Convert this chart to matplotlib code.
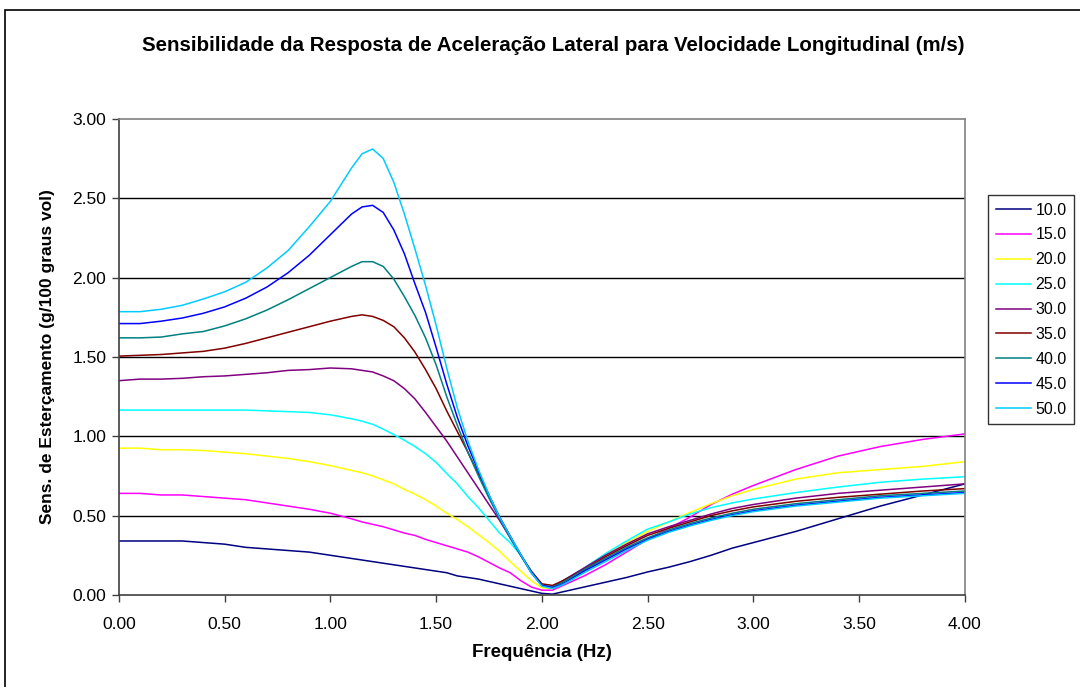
import numpy as np
import matplotlib
matplotlib.use('Agg')
import matplotlib.pyplot as plt
from matplotlib.patches import Rectangle

plt.rcParams['font.family'] = ['Liberation Sans', 'DejaVu Sans']

# frequencia (Hz)
freq = [0.0, 0.1, 0.2, 0.3, 0.4, 0.5, 0.6, 0.7, 0.8, 0.9, 1.0, 1.1, 1.15, 1.2, 1.25,
        1.3, 1.35, 1.4, 1.45, 1.5, 1.55, 1.6, 1.65, 1.7, 1.75, 1.8, 1.85, 1.9, 1.95,
        2.0, 2.05, 2.1, 2.2, 2.3, 2.4, 2.5, 2.6, 2.7, 2.8, 2.9, 3.0, 3.2, 3.4, 3.6,
        3.8, 4.0]

v10 = [0.34, 0.34, 0.34, 0.34, 0.33, 0.32, 0.30, 0.29, 0.28, 0.27, 0.25, 0.23, 0.22,
       0.21, 0.20, 0.19, 0.18, 0.17, 0.16, 0.15, 0.14, 0.12, 0.11, 0.10, 0.085, 0.07,
       0.055, 0.04, 0.025, 0.01, 0.005, 0.02, 0.05, 0.08, 0.11, 0.145, 0.175, 0.21,
       0.25, 0.295, 0.33, 0.40, 0.48, 0.56, 0.63, 0.70]
v15 = [0.64, 0.64, 0.63, 0.63, 0.62, 0.61, 0.60, 0.58, 0.56, 0.54, 0.515, 0.48, 0.46,
       0.445, 0.43, 0.41, 0.39, 0.375, 0.35, 0.33, 0.31, 0.29, 0.27, 0.24, 0.205, 0.17,
       0.14, 0.09, 0.05, 0.03, 0.03, 0.06, 0.12, 0.19, 0.27, 0.35, 0.42, 0.49, 0.57,
       0.635, 0.69, 0.79, 0.875, 0.935, 0.98, 1.015]
v20 = [0.925, 0.925, 0.915, 0.915, 0.91, 0.90, 0.89, 0.875, 0.86, 0.84, 0.815, 0.785,
       0.77, 0.75, 0.725, 0.70, 0.665, 0.635, 0.60, 0.56, 0.515, 0.475, 0.43, 0.38,
       0.33, 0.275, 0.21, 0.15, 0.09, 0.045, 0.04, 0.08, 0.16, 0.25, 0.33, 0.40, 0.46,
       0.52, 0.575, 0.625, 0.665, 0.73, 0.77, 0.79, 0.81, 0.84]
v25 = [1.165, 1.165, 1.165, 1.165, 1.165, 1.165, 1.165, 1.16, 1.155, 1.15, 1.135, 1.11,
       1.095, 1.075, 1.045, 1.01, 0.975, 0.935, 0.89, 0.835, 0.765, 0.70, 0.62, 0.55,
       0.47, 0.39, 0.33, 0.25, 0.15, 0.06, 0.05, 0.09, 0.17, 0.26, 0.34, 0.415, 0.46,
       0.51, 0.55, 0.58, 0.605, 0.645, 0.68, 0.71, 0.73, 0.745]
v30 = [1.35, 1.36, 1.36, 1.365, 1.375, 1.38, 1.39, 1.40, 1.415, 1.42, 1.43, 1.425,
       1.415, 1.405, 1.38, 1.35, 1.30, 1.235, 1.15, 1.06, 0.97, 0.87, 0.77, 0.67, 0.57,
       0.47, 0.36, 0.25, 0.14, 0.06, 0.05, 0.09, 0.17, 0.25, 0.32, 0.385, 0.43, 0.47,
       0.51, 0.545, 0.57, 0.61, 0.64, 0.66, 0.68, 0.70]
v35 = [1.505, 1.51, 1.515, 1.525, 1.535, 1.555, 1.585, 1.62, 1.655, 1.69, 1.725, 1.755,
       1.765, 1.755, 1.73, 1.69, 1.62, 1.53, 1.42, 1.30, 1.16, 1.03, 0.90, 0.76, 0.62,
       0.49, 0.37, 0.25, 0.15, 0.07, 0.06, 0.09, 0.16, 0.24, 0.31, 0.375, 0.42, 0.46,
       0.50, 0.53, 0.555, 0.59, 0.615, 0.635, 0.655, 0.67]
v40 = [1.62, 1.62, 1.625, 1.645, 1.66, 1.695, 1.74, 1.795, 1.86, 1.93, 2.00, 2.07,
       2.10, 2.10, 2.07, 1.99, 1.88, 1.76, 1.62, 1.45, 1.25, 1.07, 0.90, 0.75, 0.61,
       0.48, 0.36, 0.25, 0.14, 0.06, 0.05, 0.08, 0.16, 0.23, 0.30, 0.36, 0.41, 0.45,
       0.485, 0.515, 0.54, 0.575, 0.60, 0.625, 0.64, 0.655]
v45 = [1.71, 1.71, 1.725, 1.745, 1.775, 1.815, 1.87, 1.94, 2.03, 2.14, 2.27, 2.40,
       2.445, 2.455, 2.41, 2.30, 2.15, 1.96, 1.78, 1.56, 1.33, 1.12, 0.94, 0.78, 0.63,
       0.49, 0.37, 0.255, 0.145, 0.06, 0.045, 0.07, 0.15, 0.22, 0.29, 0.35, 0.40, 0.44,
       0.475, 0.505, 0.53, 0.565, 0.59, 0.615, 0.63, 0.645]
v50 = [1.785, 1.785, 1.80, 1.825, 1.865, 1.91, 1.97, 2.06, 2.17, 2.32, 2.48, 2.69,
       2.78, 2.81, 2.75, 2.60, 2.40, 2.18, 1.95, 1.70, 1.43, 1.18, 0.97, 0.79, 0.63,
       0.49, 0.37, 0.255, 0.14, 0.055, 0.04, 0.065, 0.14, 0.21, 0.28, 0.345, 0.395,
       0.435, 0.47, 0.50, 0.525, 0.56, 0.585, 0.61, 0.625, 0.64]

series = [v10, v15, v20, v25, v30, v35, v40, v45, v50]
labels = ['10.0', '15.0', '20.0', '25.0', '30.0', '35.0', '40.0', '45.0', '50.0']
colors = ['#000080', '#FF00FF', '#FFFF00', '#00FFFF', '#800080', '#800000',
          '#008080', '#0000FF', '#00CCFF']

fig = plt.figure(figsize=(10.8, 6.87), dpi=100)
ax = fig.add_axes([0.110, 0.134, 0.7835, 0.693])

for vals, lab, c in zip(series, labels, colors):
    ax.plot(freq, vals, color=c, lw=1.1, label=lab)

ax.set_xlim(0, 4)
ax.set_ylim(0, 3)
ax.set_xticks(np.arange(0, 4.01, 0.5))
ax.set_yticks(np.arange(0, 3.01, 0.5))
ax.set_xticklabels(['%.2f' % t for t in np.arange(0, 4.01, 0.5)], fontsize=12.5)
ax.set_yticklabels(['%.2f' % t for t in np.arange(0, 3.01, 0.5)], fontsize=12.5)
ax.tick_params(direction='out', length=5, width=1, color='#404040', pad=4)
ax.tick_params(axis='x', pad=11)

for yv in np.arange(0.5, 2.51, 0.5):
    ax.axhline(yv, color='black', lw=1, zorder=0)

ax.spines['left'].set_color('#404040')
ax.spines['bottom'].set_color('#404040')
ax.spines['top'].set_color('#808080')
ax.spines['right'].set_color('#808080')
for s in ax.spines.values():
    s.set_linewidth(1.2)

ax.set_xlabel('Frequência (Hz)', fontsize=13.5, fontweight='bold')
ax.set_ylabel('Sens. de Esterçamento (g/100 graus vol)', fontsize=12.5,
              fontweight='bold')
ax.xaxis.set_label_coords(0.5, -0.103)
ax.yaxis.set_label_coords(-0.0757, 0.5)
fig.text(553 / 1080, 0.934, 'Sensibilidade da Resposta de Aceleração Lateral para Velocidade Longitudinal (m/s)',
         ha='center', va='center', fontsize=14.8, fontweight='bold')

leg = ax.legend(loc='upper left', bbox_to_anchor=(988 / 1080, 1 - 195 / 687),
                bbox_transform=fig.transFigure, fontsize=11.5, frameon=True,
                fancybox=False, handlelength=2.2, labelspacing=0.62,
                borderpad=0.47, handletextpad=0.3, borderaxespad=0)
leg.get_frame().set_edgecolor('black')
leg.get_frame().set_linewidth(1)

# outer chart border
fig.patches.append(Rectangle((5 / 1080, -0.05), 1.1, 1 - 10 / 687 + 0.05,
                             transform=fig.transFigure, fill=False,
                             edgecolor='black', lw=1.2))

fig.savefig('out.png', dpi=100)
